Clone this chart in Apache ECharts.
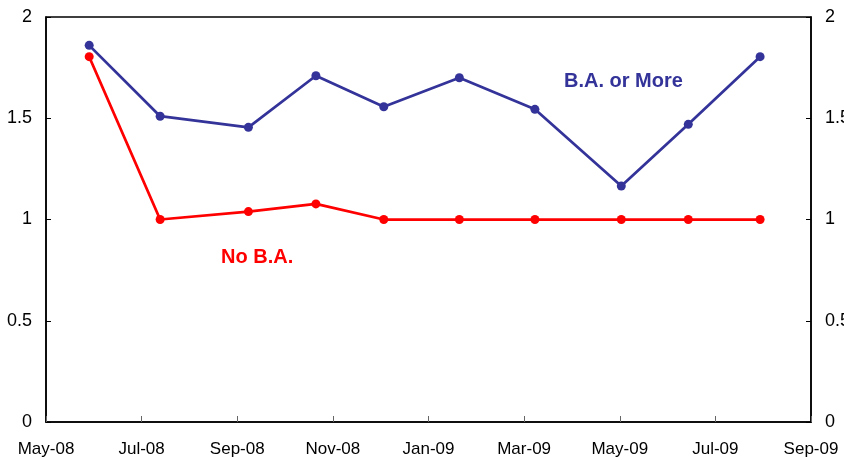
<!DOCTYPE html>
<html>
<head>
<meta charset="utf-8">
<script src="https://cdn.jsdelivr.net/npm/echarts@6/dist/echarts.min.js"></script>
<style>
	html, body { margin: 0; padding: 0; background: #fff; }
	#chart { width: 844px; height: 460px; }
</style>
</head>
<body>
<div id="chart"></div>
<script>
// survey dates
var surveyDates = ['2008-05-29', '2008-07-13', '2008-09-08', '2008-10-21', '2008-12-03',
	'2009-01-21', '2009-03-08', '2009-05-02', '2009-06-14', '2009-07-30'];
// B.A. or More
var baOrMore = [1.86, 1.51, 1.455, 1.71, 1.557, 1.70, 1.544, 1.165, 1.47, 1.804];
// No B.A.
var noBA = [1.804, 1.0, 1.039, 1.077, 1.0, 1.0, 1.0, 1.0, 1.0, 1.0];
// x tick labels, every 2 months from May-08
var xTickLabels = ['May-08', 'Jul-08', 'Sep-08', 'Nov-08', 'Jan-09', 'Mar-09', 'May-09', 'Jul-09', 'Sep-09'];
var yTicks = [0, 0.5, 1, 1.5, 2];

var BLUE = '#333399';
var RED = '#ff0000';

// months since 1 May 2008, fractional
function monthIndex(s) {
	var p = s.split('-');
	var y = +p[0], m = +p[1], d = +p[2];
	var days = new Date(y, m, 0).getDate();
	return (y - 2008) * 12 + (m - 5) + (d - 1) / days;
}

function pairs(vals) {
	var out = [];
	for (var i = 0; i < vals.length; i++) {
		out.push([monthIndex(surveyDates[i]), vals[i]]);
	}
	return out;
}

var myChart = echarts.init(document.getElementById('chart'));

var yAxisBase = function(pos) {
	return {
		type: 'value',
		position: pos,
		min: yTicks[0],
		max: yTicks[yTicks.length - 1],
		interval: 0.5,
		splitLine: { show: false },
		axisLine: { show: true, lineStyle: { color: '#000', width: 1.5 } },
		axisTick: { show: true, inside: true, length: 5, lineStyle: { color: '#000' } },
		axisLabel: {
			margin: 14,
			color: '#000',
			fontFamily: 'Liberation Sans, Arial, sans-serif',
			fontSize: 18
		}
	};
};

var option = {
	animation: false,
	backgroundColor: '#fff',
	grid: {
		left: 46, right: 33, top: 17, bottom: 38,
		outerBoundsMode: 'none',
		containLabel: false,
		show: true, borderColor: '#000', borderWidth: 1.5
	},
	xAxis: {
		type: 'value',
		min: 0,
		max: (xTickLabels.length - 1) * 2,
		interval: 2,
		splitLine: { show: false },
		axisLine: { show: true, onZero: false, lineStyle: { color: '#000', width: 1.5 } },
		axisTick: { show: true, inside: true, length: 6, lineStyle: { color: '#666' } },
		axisLabel: {
			margin: 19,
			color: '#000',
			fontFamily: 'Liberation Sans, Arial, sans-serif',
			fontSize: 17,
			formatter: function(v) { return xTickLabels[Math.round(v / 2)] || ''; }
		}
	},
	yAxis: [yAxisBase('left'), yAxisBase('right')],
	series: [{
		name: 'B.A. or More',
		type: 'line',
		data: pairs(baOrMore),
		symbol: 'circle',
		symbolSize: 9,
		lineStyle: { color: BLUE, width: 2.75 },
		itemStyle: { color: BLUE }
	}, {
		name: 'No B.A.',
		type: 'line',
		data: pairs(noBA),
		symbol: 'circle',
		symbolSize: 9,
		lineStyle: { color: RED, width: 2.75 },
		itemStyle: { color: RED }
	}],
	graphic: [{
		type: 'text',
		left: 564,
		top: 71,
		style: {
			text: 'B.A. or More',
			fill: BLUE,
			font: 'bold 20px "Liberation Sans", Arial, sans-serif'
		}
	}, {
		type: 'text',
		left: 221,
		top: 247,
		style: {
			text: 'No B.A.',
			fill: RED,
			font: 'bold 20px "Liberation Sans", Arial, sans-serif'
		}
	}]
};
myChart.setOption(option);
</script>
</body>
</html>
